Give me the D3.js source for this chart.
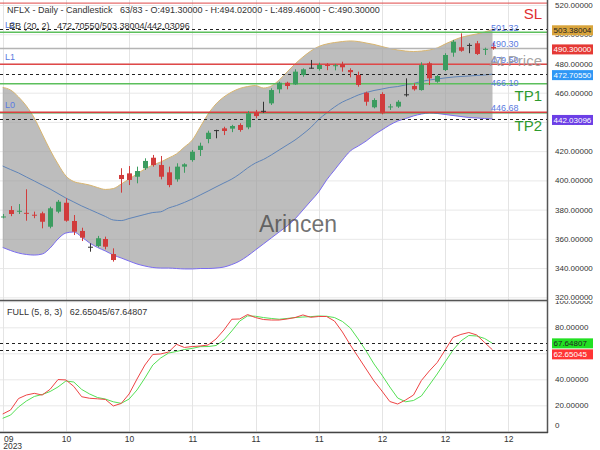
<!DOCTYPE html>
<html><head><meta charset="utf-8">
<script src="https://cdn.jsdelivr.net/npm/d3@7"></script>
<style>body{margin:0;background:#fff}svg{display:block;font-family:"Liberation Sans",Arial,sans-serif}</style>
</head><body><svg id="c" width="600" height="450"></svg>
<script>
// ---- DATA ----
const openP  = [374.9,379.7,378.6,377.8,376.5,377.5,368.3,378.6,384.7,372.2,365.4,354.6,355.1,359.9,349.6,403.7,404.8,402.5,408.3,415.5,410.5,405.5,400.7,409.4,413.9,420.8,428.3,434.4,435.6,435.4,437.9,436.3,446.3,447.6,452.7,462.3,466.8,465.7,472.1,477.1,476.2,479.0,478.4,479.6,475.5,472.1,460.0,450.0,459.1,450.2,450.5,458.9,464.6,461.8,480.1,467.5,475.5,487.4,491.1,492.7,493.8,489.3,491.3];
const highP  = [377.0,382.4,383.8,393.9,378.6,378.6,382.0,386.6,387.7,376.3,367.6,356.9,362.0,361.5,353.5,408.3,409.8,409.4,415.1,417.4,416.7,409.4,411.7,411.7,420.8,425.8,434.0,434.6,436.7,438.0,439.1,447.5,448.2,453.8,463.0,467.5,467.5,476.0,476.7,482.4,480.5,480.2,479.7,481.2,476.7,474.4,460.7,456.2,460.3,452.3,454.9,469.8,466.4,480.8,481.2,472.1,487.0,496.1,500.6,493.8,495.4,490.8,494.02];
const lowP   = [374.0,375.5,377.0,372.4,374.1,367.2,367.2,377.5,371.7,362.6,358.5,351.2,354.2,352.8,344.4,391.6,396.8,398.0,407.1,409.4,400.7,395.3,399.1,405.2,412.8,416.7,425.4,428.8,431.0,433.0,433.3,435.0,442.5,446.3,451.6,459.6,462.3,465.3,470.9,476.5,475.1,475.4,475.3,474.4,470.5,464.1,451.1,449.3,445.2,448.2,449.6,457.3,461.4,461.4,465.3,466.8,474.8,484.6,488.0,487.0,485.8,485.8,489.46];
const closeP = [375.3,377.0,379.2,377.3,376.0,371.7,380.9,385.4,372.4,364.9,360.8,354.6,360.4,354.6,345.5,400.9,400.3,406.4,413.3,410.5,402.5,396.8,409.4,411.0,419.6,423.7,432.6,434.4,433.8,437.2,434.5,445.9,444.0,447.6,461.8,466.8,464.6,474.4,476.0,477.1,479.0,478.6,478.8,477.4,474.0,465.3,453.8,455.0,445.9,450.6,453.8,458.9,462.3,478.9,469.8,471.4,485.8,494.9,488.7,492.7,486.5,490.0,490.3];

const bbUpper  = [463.6,461.8,457.1,450.9,442.7,431.7,420.8,411.2,403.0,399.2,397.9,396.8,395.1,393.8,394.4,397.5,400.9,404.4,407.8,410.5,412.6,415.3,418.1,422.8,427.6,436.5,445.4,452.3,457.1,460.5,462.9,464.2,464.9,463.2,464.6,468.7,474.2,479.6,484.4,488.5,491.6,493.3,494.3,495.0,495.4,495.0,494.0,493.0,491.6,490.2,489.2,488.5,488.2,488.5,489.2,490.6,493.3,495.7,497.8,499.1,500.2,501.5,503.38];
const bbMiddle = [409.8,407.4,405.1,402.3,399.6,396.8,394.1,391.0,387.9,385.2,382.5,380.1,377.7,375.3,372.9,372.5,373.9,375.3,376.7,378.0,378.5,381.1,382.8,384.9,387.3,390.0,392.7,395.5,398.2,400.9,404.4,408.5,411.9,414.3,417.4,420.8,424.2,427.6,431.7,436.2,441.7,446.1,450.2,453.6,456.0,458.4,460.1,461.5,462.5,463.6,464.2,465.3,466.3,467.7,468.7,469.4,470.1,470.7,471.1,471.4,471.8,472.1,472.7055];
const bbLower  = [354.1,352.0,350.3,349.3,348.9,349.6,353.7,359.9,364.0,364.7,361.3,357.2,354.1,351.7,348.9,346.9,344.8,342.8,341.4,340.4,340.0,340.0,339.7,339.4,339.4,339.7,339.7,340.0,340.7,342.4,344.8,348.3,352.4,356.5,360.6,364.7,368.8,373.6,379.7,385.9,392.1,400.3,407.1,413.9,420.1,423.5,426.9,431.1,434.5,437.9,440.6,442.3,444.1,445.4,446.1,445.8,445.1,444.4,443.7,443.0,442.7,442.3,442.03096];

const stochK = [13.3,16.4,25.2,27.9,29.2,27.9,32.3,39.8,39.5,34.5,26.6,25.4,25.0,24.5,19.5,21.4,28.7,40.2,51.0,59.1,59.5,61.0,66.9,64.5,65.2,65.6,66.4,71.0,77.9,86.2,86.4,89.8,87.5,86.0,85.6,85.6,86.4,87.5,89.5,87.7,88.3,88.3,84.8,76.4,66.4,57.2,47.9,38.7,31.0,22.9,21.0,24.1,27.9,39.1,46.4,52.9,62.5,72.2,74.5,76.0,74.1,68.3,62.65045];
const stochD = [10.0,12.5,18.7,23.3,26.8,28.3,30.6,34.1,38.7,37.9,32.2,28.7,26.0,24.8,22.7,21.5,24.8,31.8,41.0,51.0,56.4,60.2,61.4,62.9,63.8,65.1,65.2,66.0,70.2,77.2,84.8,88.8,88.5,87.5,86.8,86.2,86.8,87.5,87.9,88.2,88.7,88.5,87.5,84.5,79.5,71.0,61.8,51.8,43.3,34.1,25.6,22.7,23.7,27.2,35.6,44.1,53.3,62.5,69.5,73.7,73.3,71.4,67.64807];

const priceTicks = [320,340,360,380,400,420,440,460,480,500,520];
const stochTicks = [0,20,40,60,80,100];
const xTickIdx = [0,8,16,24,32,40,48,56,64];
const xTickLabels = ["09","10","10","11","11","11","12","12","12"];

const levelValues = [521.3, 501.32, 490.30, 479.50, 466.10, 446.20, 446.68];
const levelColors = ["#e04848","#5cbf5c","#b4b4b4","#e04848","#5cbf5c","#4a9a4a","#d94040"];
const levelTexts  = ["", "501.32", "490.30", "479.50", "466.10", "", "446.68"];
const levelTags   = ["", "L2", "", "L1", "", "", "L0"];
const bbLast = [503.38004, 472.70550, 442.03096];
const stochLast = [67.64807, 62.65045];

// ---- LAYOUT ----
const svg = d3.select("#c");
const plotR = 547, sepY = 300, botY = 432;
const x = d3.scaleLinear().domain([0, 68]).range([2.7, 2.7 + 68 * 7.9]);
const yP = d3.scaleLinear().domain([320, 520]).range([297.3, 5]);
const yS = d3.scaleLinear().domain([0, 100]).range([431.3, 301.3]);
const idx = d3.range(closeP.length);

const defs = svg.append("defs");
defs.append("clipPath").attr("id","cTop").append("rect").attr("x",0).attr("y",0).attr("width",plotR).attr("height",sepY);
defs.append("clipPath").attr("id","cBot").append("rect").attr("x",0).attr("y",sepY).attr("width",plotR).attr("height",botY-sepY);
defs.append("clipPath").attr("id","cTopAx").append("rect").attr("x",plotR).attr("y",0).attr("width",60).attr("height",sepY);
defs.append("clipPath").attr("id","cBotAx").append("rect").attr("x",plotR).attr("y",sepY+1).attr("width",60).attr("height",botY-sepY);

// grid
const gTop = svg.append("g").attr("clip-path","url(#cTop)");
const gBot = svg.append("g").attr("clip-path","url(#cBot)");
gTop.selectAll(".hg").data(priceTicks).join("line").attr("x1",0).attr("x2",plotR)
  .attr("y1",d=>yP(d)+0.5).attr("y2",d=>yP(d)+0.5).attr("stroke","#e8e8e8");
gBot.selectAll(".hg").data(stochTicks).join("line").attr("x1",0).attr("x2",plotR)
  .attr("y1",d=>yS(d)+0.5).attr("y2",d=>yS(d)+0.5).attr("stroke","#e8e8e8");
[gTop,gBot].forEach(g=>g.selectAll(".vg").data(xTickIdx).join("line")
  .attr("x1",d=>Math.round(x(d))+0.5).attr("x2",d=>Math.round(x(d))+0.5).attr("y1",0).attr("y2",botY).attr("stroke","#e4e4e4"));

// BB
const area = d3.area().x(i=>x(i)).y0(i=>yP(bbLower[i])).y1(i=>yP(bbUpper[i])).curve(d3.curveMonotoneX);
gTop.append("path").datum(idx).attr("d",area).attr("fill","#9a9a9a").attr("fill-opacity",0.65);
const lineOf = arr => d3.line().x(i=>x(i)).y(i=>yP(arr[i])).curve(d3.curveMonotoneX);
gTop.append("path").datum(idx).attr("d",lineOf(bbUpper)).attr("fill","none").attr("stroke","#d9b56e").attr("stroke-width",1);
gTop.append("path").datum(idx).attr("d",lineOf(bbMiddle)).attr("fill","none").attr("stroke","#5f84b8").attr("stroke-width",1);
gTop.append("path").datum(idx).attr("d",lineOf(bbLower)).attr("fill","none").attr("stroke","#7a6cf0").attr("stroke-width",1);

// level lines
levelValues.forEach((v,k)=>{
  gTop.append("line").attr("x1",0).attr("x2",plotR).attr("y1",yP(v)).attr("y2",yP(v))
    .attr("stroke",levelColors[k]).attr("stroke-width",k===0?1:1.5);
});
bbLast.forEach(v=>gTop.append("line").attr("x1",0).attr("x2",plotR).attr("y1",Math.round(yP(v))+0.5).attr("y2",Math.round(yP(v))+0.5)
  .attr("stroke","#222").attr("stroke-dasharray","3,3"));

// candles
const bw = 5;
const colorOf = i => openP[i]===closeP[i] ? "#333" : (closeP[i] > openP[i] ? "#3c9c60" : "#d13c3c");
const cg = gTop.append("g");
cg.selectAll(".wick").data(idx).join("line")
  .attr("x1",i=>Math.round(x(i))+0.5).attr("x2",i=>Math.round(x(i))+0.5)
  .attr("y1",i=>yP(highP[i])).attr("y2",i=>yP(lowP[i])).attr("stroke",colorOf).attr("stroke-width",1);
cg.selectAll(".body").data(idx).join("rect")
  .attr("x",i=>Math.round(x(i))+0.5-bw/2).attr("width",bw)
  .attr("y",i=>yP(Math.max(openP[i],closeP[i])))
  .attr("height",i=>Math.max(1,Math.abs(yP(openP[i])-yP(closeP[i]))))
  .attr("fill",colorOf);

// stochastic
const sLine = arr => d3.line().x(i=>x(i)).y(i=>yS(arr[i]));
gBot.append("path").datum(idx).attr("d",sLine(stochD)).attr("fill","none").attr("stroke","#55e055").attr("stroke-width",1);
gBot.append("path").datum(idx).attr("d",sLine(stochK)).attr("fill","none").attr("stroke","#ee4444").attr("stroke-width",1);
stochLast.forEach(v=>gBot.append("line").attr("x1",0).attr("x2",plotR).attr("y1",Math.round(yS(v))+0.5).attr("y2",Math.round(yS(v))+0.5)
  .attr("stroke","#222").attr("stroke-dasharray","3,3"));

// axes
const fs = 9, afs = 8;
const axP = svg.append("g").attr("clip-path","url(#cTopAx)").append("g").attr("transform",`translate(${plotR},0)`)
  .call(d3.axisRight(yP).tickValues(priceTicks).tickFormat(d3.format(".5f")).tickSize(0).tickPadding(8));
const axS = svg.append("g").attr("clip-path","url(#cBotAx)").append("g").attr("transform",`translate(${plotR},0)`)
  .call(d3.axisRight(yS).tickValues(stochTicks).tickFormat(d=>d===0?"0":d3.format(".5f")(d)).tickSize(0).tickPadding(8));
axS.selectAll(".tick").filter(d=>d===0).select("text").attr("dy","-0.5em");
const axX = svg.append("g").attr("transform",`translate(0,${botY})`)
  .call(d3.axisBottom(x).tickValues(xTickIdx).tickFormat((d,i)=>xTickLabels[i]).tickSize(0).tickPadding(4));
axX.selectAll(".tick").filter(d=>d===0).select("text").attr("text-anchor","start").attr("dx","0.1em");
[axP,axS,axX].forEach(a=>{a.select(".domain").remove();a.selectAll("text").attr("font-size",afs+0.5).attr("fill","#333").attr("font-family","Liberation Sans, Arial, sans-serif");});
axP.selectAll("text").attr("font-size",afs);
axS.selectAll("text").attr("font-size",afs);
svg.append("text").attr("x",x(0)+0.5).attr("y",449).attr("font-size",afs+0.5).attr("fill","#333").text("2023");

// frame lines
svg.append("line").attr("x1",plotR+0.5).attr("x2",plotR+0.5).attr("y1",0).attr("y2",botY+1).attr("stroke","#555").attr("stroke-width",1.5);
svg.append("line").attr("x1",0).attr("x2",plotR).attr("y1",sepY+0.5).attr("y2",sepY+0.5).attr("stroke","#555").attr("stroke-width",1.5);
svg.append("line").attr("x1",0).attr("x2",plotR+1).attr("y1",botY+0.5).attr("y2",botY+0.5).attr("stroke","#444").attr("stroke-width",1.5);

// value boxes on axis
function box(yc, txt, bg, fg){
  svg.append("rect").attr("x",552).attr("y",yc-5).attr("width",41).attr("height",10).attr("fill",bg);
  svg.append("text").attr("x",553.5).attr("y",yc+3).attr("font-size",afs).attr("fill",fg).text(txt);
}
box(yP(bbLast[0])+1, "503.38004", "#d9a43c", "#222");
box(yP(closeP[closeP.length-1])+1, "490.30000", "#e53935", "#fff");
box(yP(bbLast[1])+1, "472.70550", "#2f97f5", "#fff");
box(yP(bbLast[2])+1, "442.03096", "#6c3fe6", "#fff");
box(yS(stochLast[0]), "67.64807", "#22e022", "#222");
box(yS(stochLast[1])+4.5, "62.65045", "#ff3535", "#fff");

// level labels
levelValues.forEach((v,k)=>{
  if(levelTexts[k]) svg.append("text").attr("x",491).attr("y",yP(v)-(k===4? -2 : 1.5)).attr("font-size",9).attr("fill","#5a7be0").text(levelTexts[k]);
  if(levelTags[k]) svg.append("text").attr("x",5).attr("y",yP(v)-4.5).attr("font-size",9).attr("fill","#5a7be0").text(levelTags[k]);
});
svg.append("text").attr("x",542).attr("y",19).attr("text-anchor","end").attr("font-size",15).attr("fill","#e03030").text("SL");
svg.append("text").attr("x",542).attr("y",66).attr("text-anchor","end").attr("font-size",15).attr("fill","#999").attr("fill-opacity",0.9).text("At Price");
svg.append("text").attr("x",542).attr("y",101).attr("text-anchor","end").attr("font-size",15).attr("fill","#2e9a2e").text("TP1");
svg.append("text").attr("x",542).attr("y",131).attr("text-anchor","end").attr("font-size",15).attr("fill","#2e9a2e").text("TP2");

// watermark
svg.append("text").attr("x",259).attr("y",232).attr("font-size",23).attr("fill","#444").attr("fill-opacity",0.75).text("Arincen");

// headers
svg.append("text").attr("x",7).attr("y",13).attr("font-size",fs).attr("fill","#333").attr("xml:space","preserve")
  .text("NFLX - Daily - Candlestick   63/83 - O:491.30000 - H:494.02000 - L:489.46000 - C:490.30000");
svg.append("text").attr("x",9).attr("y",28.5).attr("font-size",fs).attr("fill","#333").attr("xml:space","preserve")
  .text("BB (20, 2)   472.70550/503.38004/442.03096");
svg.append("text").attr("x",7).attr("y",315).attr("font-size",fs).attr("fill","#333").attr("xml:space","preserve")
  .text("FULL (5, 8, 3)   62.65045/67.64807");
</script></body></html>
